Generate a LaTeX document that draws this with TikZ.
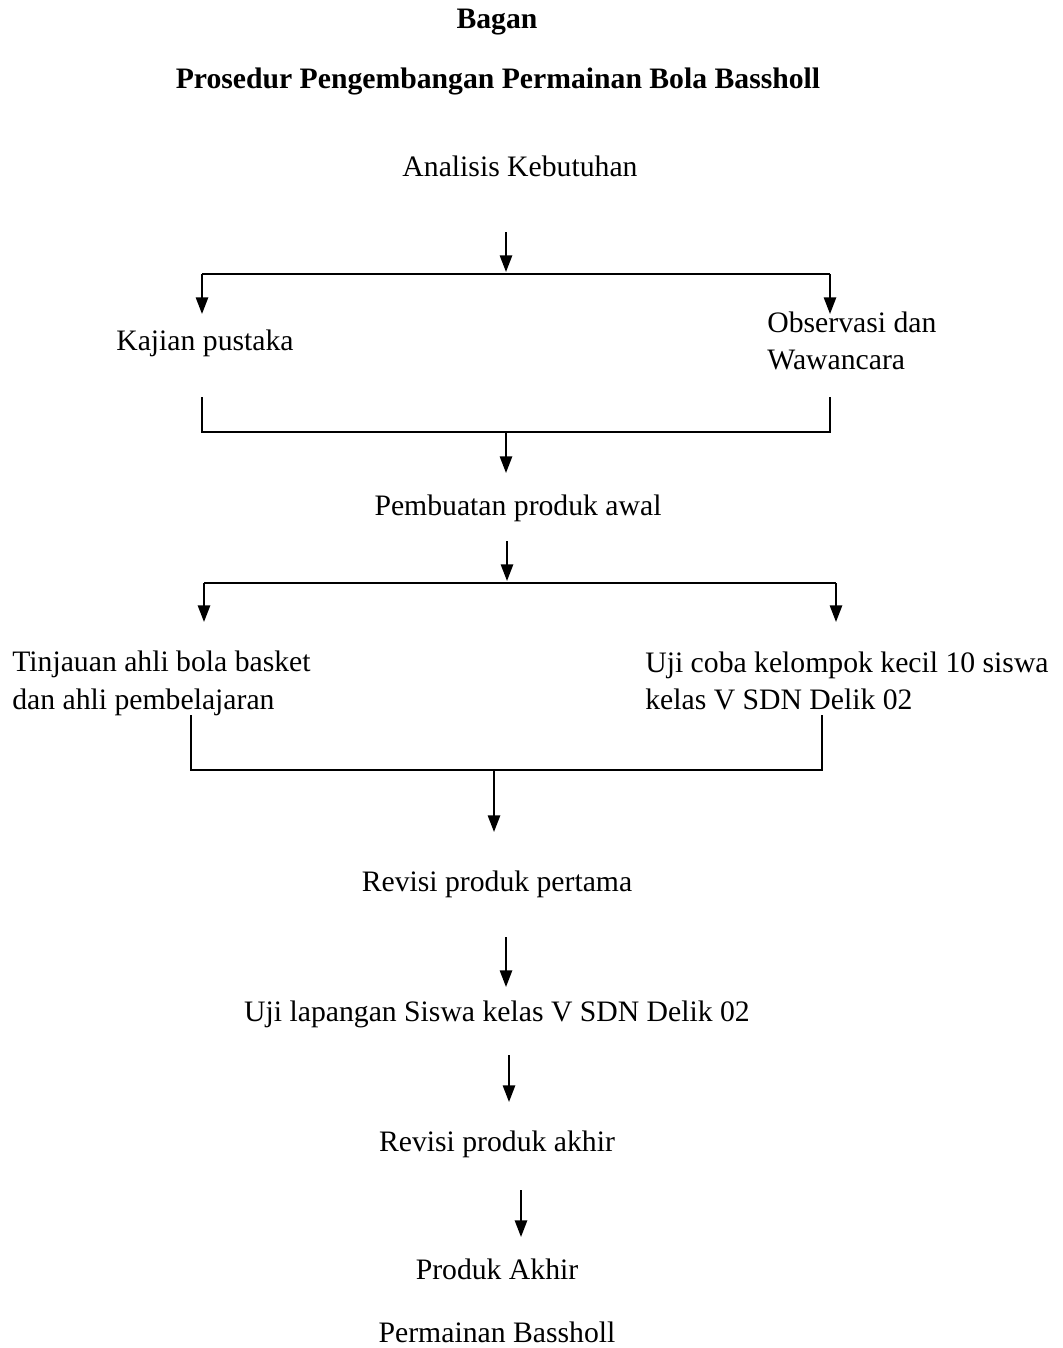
\documentclass[tikz,border=0pt]{standalone}
\usepackage{fontspec}
\setmainfont{Liberation Serif}
\usetikzlibrary{arrows.meta}
\begin{document}
\begin{tikzpicture}[x=0.02cm,y=-0.02cm,
  txt/.style={inner sep=0pt,font=\fontsize{16.9}{21.5}\selectfont},
  ttl/.style={inner sep=0pt,font=\fontsize{16.9}{21.5}\selectfont\bfseries},
  ln/.style={line width=1.1pt},
  arr/.style={line width=1.1pt,-{Triangle[width=7pt,length=9.5pt]}}]
\useasboundingbox (0,0) rectangle (1062,1348);
% titles
\node[ttl,anchor=base] (t1) at (497,29) {Bagan};
\node[ttl,anchor=base] (t2) at (498,89) {Prosedur Pengembangan Permainan Bola Bassholl};
% texts
\node[txt,anchor=base] (ak) at (520,177) {Analisis Kebutuhan};
\node[txt,anchor=base west] (kp) at (116,350) {Kajian pustaka};
\node[txt,anchor=west,align=left] (ow) at (767,341) {Observasi dan\\Wawancara};
\node[txt,anchor=base] (pp) at (518,515) {Pembuatan produk awal};
\node[txt,anchor=west,align=left] (ta) at (12,683) {Tinjauan ahli bola basket\\dan ahli pembelajaran};
\node[txt,anchor=west,align=left] (uk) at (645,681) {Uji coba kelompok kecil 10 siswa\\kelas V SDN Delik 02};
\node[txt,anchor=base] (rp) at (497,891) {Revisi produk pertama};
\node[txt,anchor=base] (ul) at (497,1021) {Uji lapangan Siswa kelas V SDN Delik 02};
\node[txt,anchor=base] (ra) at (497,1151) {Revisi produk akhir};
\node[txt,anchor=base] (pa) at (497,1279) {Produk Akhir};
\node[txt,anchor=base] (pb) at (497,1342) {Permainan Bassholl};
% coordinates
\coordinate (a1s) at (506,232);
\coordinate (a1e) at (506,272);
\coordinate (h1l) at (202,274);
\coordinate (h1r) at (830,274);
\coordinate (d1l) at (202,314);
\coordinate (d1r) at (830,314);
\coordinate (u1l) at (202,397);
\coordinate (u1r) at (830,397);
\coordinate (h2l) at (202,432);
\coordinate (h2r) at (830,432);
\coordinate (h2m) at (506,432);
\coordinate (a2e) at (506,473);
\coordinate (a3s) at (507,541);
\coordinate (a3e) at (507,581);
\coordinate (h3l) at (204,583);
\coordinate (h3r) at (836,583);
\coordinate (d3l) at (204,622);
\coordinate (d3r) at (836,622);
\coordinate (u3l) at (191,715);
\coordinate (u3r) at (822,715);
\coordinate (h4l) at (191,770);
\coordinate (h4r) at (822,770);
\coordinate (h4m) at (494,770);
\coordinate (a4e) at (494,832);
\coordinate (a5s) at (506,937);
\coordinate (a5e) at (506,987);
\coordinate (a6s) at (509,1055);
\coordinate (a6e) at (509,1102);
\coordinate (a7s) at (521,1190);
\coordinate (a7e) at (521,1237);
% connectors
\draw[arr] (a1s) -- (a1e);
\draw[ln] (h1l) -- (h1r);
\draw[arr] (h1l) -- (d1l);
\draw[arr] (h1r) -- (d1r);
\draw[ln] (u1l) -- (h2l) -- (h2r) -- (u1r);
\draw[arr] (h2m) -- (a2e);
\draw[arr] (a3s) -- (a3e);
\draw[ln] (h3l) -- (h3r);
\draw[arr] (h3l) -- (d3l);
\draw[arr] (h3r) -- (d3r);
\draw[ln] (u3l) -- (h4l) -- (h4r) -- (u3r);
\draw[arr] (h4m) -- (a4e);
\draw[arr] (a5s) -- (a5e);
\draw[arr] (a6s) -- (a6e);
\draw[arr] (a7s) -- (a7e);
\end{tikzpicture}
\end{document}
